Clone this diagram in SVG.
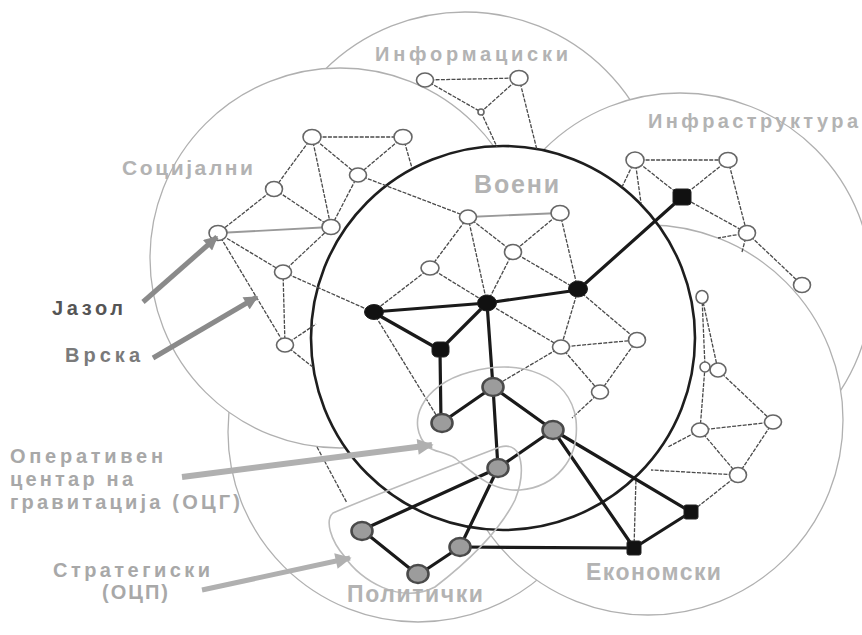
<svg xmlns="http://www.w3.org/2000/svg" width="862" height="635" viewBox="0 0 862 635">
<defs>
<style>
.ring{fill:#fff;stroke:#b0b0b0;stroke-width:1.3}
.mil{fill:#fff;stroke:#1e1e1e;stroke-width:2.6}
.e{stroke:#4a4a4a;stroke-width:1.3;stroke-dasharray:4 1.3;fill:none}
.el{stroke:#999;stroke-width:1.8;fill:none}
.t{stroke:#1a1a1a;stroke-width:3.2;stroke-linecap:round;fill:none}
.blob{fill:none;stroke:#bbb;stroke-width:1.6}
.wn{fill:#fff;stroke:#666;stroke-width:1.6}
.bn{fill:#111;stroke:#222;stroke-width:1}
.gn{fill:#9c9c9c;stroke:#4a4a4a;stroke-width:2.6}
.lab{font-family:"Liberation Sans",Arial,sans-serif;font-weight:bold;fill:#b3b3b3}
.side{font-family:"Liberation Sans",Arial,sans-serif;font-weight:bold}
</style>
<marker id="ahD" markerUnits="userSpaceOnUse" viewBox="0 0 10 10" refX="9" refY="5" markerWidth="16" markerHeight="14" orient="auto"><path d="M0,0 L10,5 L0,10 Z" fill="#8a8a8a"/></marker>
<marker id="ahL" markerUnits="userSpaceOnUse" viewBox="0 0 10 10" refX="9" refY="5" markerWidth="18" markerHeight="16" orient="auto"><path d="M0,0 L10,5 L0,10 Z" fill="#b0b0b0"/></marker>
</defs>
<rect width="862" height="635" fill="#fff"/>
<g id="domains">
<circle class="ring" cx="465" cy="211" r="199"/>
<circle class="ring" cx="680" cy="285" r="192"/>
<circle class="ring" cx="418" cy="432" r="190"/>
<circle class="ring" cx="340" cy="258" r="190"/>
<circle class="ring" cx="648" cy="420" r="195"/>
<circle class="mil" cx="503" cy="338" r="192"/>
</g>
<g id="connectors">
<g class="e">
<line x1="312" y1="137" x2="403" y2="137"/>
<line x1="312" y1="137" x2="358" y2="175"/>
<line x1="403" y1="137" x2="358" y2="175"/>
<line x1="312" y1="137" x2="274" y2="189"/>
<line x1="312" y1="137" x2="331" y2="227"/>
<line x1="403" y1="137" x2="412" y2="168"/>
<line x1="358" y1="175" x2="331" y2="227"/>
<line x1="358" y1="175" x2="468" y2="217"/>
<line x1="274" y1="189" x2="218" y2="233"/>
<line x1="274" y1="189" x2="331" y2="227"/>
<line x1="218" y1="233" x2="283" y2="272"/>
<line x1="283" y1="272" x2="331" y2="227"/>
<line x1="218" y1="233" x2="285" y2="345"/>
<line x1="283" y1="272" x2="285" y2="345"/>
<line x1="283" y1="272" x2="373" y2="312"/>
<line x1="285" y1="345" x2="316" y2="324"/>
<line x1="285" y1="345" x2="314" y2="368"/>
<line x1="425" y1="80" x2="519" y2="78"/>
<line x1="425" y1="80" x2="481" y2="112"/>
<line x1="519" y1="78" x2="481" y2="112"/>
<line x1="481" y1="112" x2="497" y2="147"/>
<line x1="519" y1="78" x2="537" y2="150"/>
<line x1="468" y1="217" x2="513" y2="252"/>
<line x1="560" y1="213" x2="513" y2="252"/>
<line x1="468" y1="217" x2="430" y2="268"/>
<line x1="468" y1="217" x2="487" y2="303"/>
<line x1="560" y1="213" x2="578" y2="290"/>
<line x1="513" y1="252" x2="487" y2="303"/>
<line x1="513" y1="252" x2="578" y2="290"/>
<line x1="430" y1="268" x2="487" y2="303"/>
<line x1="430" y1="268" x2="373" y2="312"/>
<line x1="373" y1="312" x2="441" y2="423"/>
<line x1="487" y1="303" x2="561" y2="347"/>
<line x1="578" y1="290" x2="561" y2="347"/>
<line x1="578" y1="290" x2="637" y2="340"/>
<line x1="561" y1="347" x2="637" y2="340"/>
<line x1="561" y1="347" x2="600" y2="392"/>
<line x1="637" y1="340" x2="600" y2="392"/>
<line x1="561" y1="347" x2="493" y2="387"/>
<line x1="600" y1="392" x2="572" y2="418"/>
<line x1="635" y1="160" x2="728" y2="160"/>
<line x1="635" y1="160" x2="682" y2="197"/>
<line x1="728" y1="160" x2="682" y2="197"/>
<line x1="635" y1="160" x2="622" y2="187"/>
<line x1="635" y1="160" x2="641" y2="203"/>
<line x1="728" y1="160" x2="747" y2="233"/>
<line x1="682" y1="197" x2="747" y2="233"/>
<line x1="747" y1="233" x2="802" y2="285"/>
<line x1="747" y1="233" x2="718" y2="238"/>
<line x1="747" y1="233" x2="742" y2="252"/>
<line x1="702" y1="297" x2="705" y2="367"/>
<line x1="702" y1="297" x2="718" y2="370"/>
<line x1="718" y1="370" x2="773" y2="422"/>
<line x1="705" y1="367" x2="700" y2="430"/>
<line x1="773" y1="422" x2="700" y2="430"/>
<line x1="773" y1="422" x2="738" y2="475"/>
<line x1="700" y1="430" x2="738" y2="475"/>
<line x1="738" y1="475" x2="691" y2="512"/>
<line x1="738" y1="475" x2="651" y2="470"/>
<line x1="700" y1="430" x2="668" y2="447"/>
<line x1="634" y1="548" x2="636" y2="478"/>
<line x1="317" y1="447" x2="347" y2="503"/>
</g>
<g class="el">
<line x1="218" y1="233" x2="331" y2="227"/>
<line x1="468" y1="217" x2="560" y2="213"/>
</g>
<g class="t">
<line x1="373" y1="312" x2="487" y2="303"/>
<line x1="373" y1="312" x2="440" y2="350"/>
<line x1="487" y1="303" x2="440" y2="350"/>
<line x1="487" y1="303" x2="578" y2="290"/>
<line x1="578" y1="290" x2="682" y2="197"/>
<line x1="487" y1="303" x2="493" y2="387"/>
<line x1="440" y1="350" x2="441" y2="423"/>
<line x1="441" y1="423" x2="493" y2="387"/>
<line x1="493" y1="387" x2="498" y2="468"/>
<line x1="493" y1="387" x2="553" y2="430"/>
<line x1="553" y1="430" x2="498" y2="468"/>
<line x1="553" y1="430" x2="634" y2="548"/>
<line x1="553" y1="430" x2="691" y2="512"/>
<line x1="691" y1="512" x2="634" y2="548"/>
<line x1="498" y1="468" x2="362" y2="530"/>
<line x1="498" y1="468" x2="460" y2="547"/>
<line x1="362" y1="530" x2="418" y2="575"/>
<line x1="418" y1="575" x2="460" y2="547"/>
<line x1="460" y1="547" x2="634" y2="548"/>
</g>
</g>
<g id="centres">
<path id="ocg-op" class="blob" d="M428,447 C405,425 420,385 470,372 C520,358 570,375 576,420 C580,460 555,487 520,490 C490,492 470,470 455,458 C445,452 435,452 428,447 Z"/>
<path id="ocg-str" class="blob" d="M333,513 C370,497 440,470 500,447 C525,440 525,475 515,500 C500,530 470,560 435,587 C400,605 360,580 345,557 C330,540 325,520 333,513 Z"/>
</g>
<g id="nodes">
<g id="n-A"><ellipse class="wn" cx="312" cy="137" rx="9" ry="7.5"/></g>
<g id="n-B"><ellipse class="wn" cx="403" cy="137" rx="9" ry="7.5"/></g>
<g id="n-C"><ellipse class="wn" cx="358" cy="175" rx="8.5" ry="7"/></g>
<g id="n-D"><ellipse class="wn" cx="274" cy="189" rx="8.5" ry="7.5"/></g>
<g id="n-E"><ellipse class="wn" cx="331" cy="227" rx="9" ry="7.5"/></g>
<g id="n-F"><ellipse class="wn" cx="218" cy="233" rx="9" ry="7.5"/></g>
<g id="n-G"><ellipse class="wn" cx="283" cy="272" rx="8.5" ry="7"/></g>
<g id="n-X"><ellipse class="wn" cx="285" cy="345" rx="8.5" ry="7"/></g>
<g id="n-J"><ellipse class="wn" cx="425" cy="80" rx="8.5" ry="7"/></g>
<g id="n-K"><ellipse class="wn" cx="519" cy="78" rx="9" ry="7.5"/></g>
<g id="n-n"><circle class="wn" cx="481" cy="112" r="3"/></g>
<g id="n-R"><ellipse class="wn" cx="468" cy="217" rx="8.5" ry="7"/></g>
<g id="n-S"><ellipse class="wn" cx="560" cy="213" rx="9" ry="7.5"/></g>
<g id="n-T"><ellipse class="wn" cx="513" cy="252" rx="8.5" ry="7.5"/></g>
<g id="n-W"><ellipse class="wn" cx="430" cy="268" rx="9" ry="7"/></g>
<g id="n-m1"><ellipse class="wn" cx="561" cy="347" rx="8.5" ry="7"/></g>
<g id="n-m2"><ellipse class="wn" cx="637" cy="340" rx="8.5" ry="7.5"/></g>
<g id="n-m3"><ellipse class="wn" cx="600" cy="392" rx="8.5" ry="7"/></g>
<g id="n-L"><ellipse class="wn" cx="635" cy="160" rx="9" ry="8"/></g>
<g id="n-M"><ellipse class="wn" cx="728" cy="160" rx="9" ry="7.5"/></g>
<g id="n-O"><ellipse class="wn" cx="747" cy="233" rx="8.5" ry="7.5"/></g>
<g id="n-P"><ellipse class="wn" cx="802" cy="285" rx="8.5" ry="7.5"/></g>
<g id="n-Q"><ellipse class="wn" cx="702" cy="297" rx="6" ry="6.5"/></g>
<g id="n-e1"><ellipse class="wn" cx="705" cy="367" rx="5" ry="5"/></g>
<g id="n-e2"><ellipse class="wn" cx="718" cy="370" rx="8" ry="7"/></g>
<g id="n-e3"><ellipse class="wn" cx="773" cy="422" rx="8.5" ry="7"/></g>
<g id="n-e4"><ellipse class="wn" cx="700" cy="430" rx="8.5" ry="7"/></g>
<g id="n-e5"><ellipse class="wn" cx="738" cy="475" rx="8.5" ry="7.5"/></g>
<g id="n-H"><ellipse class="bn" cx="374" cy="312" rx="9.5" ry="7.5"/></g>
<g id="n-V"><ellipse class="bn" cx="487" cy="303" rx="9.5" ry="8"/></g>
<g id="n-U"><ellipse class="bn" cx="578" cy="289" rx="9.5" ry="8"/></g>
<g id="n-Y"><rect class="bn" x="432" y="342" width="17" height="15" rx="5"/></g>
<g id="n-N"><rect class="bn" x="673" y="189" width="18" height="16" rx="3"/></g>
<g id="n-E1"><rect class="bn" x="627" y="541" width="14" height="14" rx="2"/></g>
<g id="n-E2"><rect class="bn" x="684" y="505" width="14" height="14" rx="2"/></g>
<g id="n-Z1"><ellipse class="gn" cx="493" cy="387" rx="10.5" ry="9"/></g>
<g id="n-Z2"><ellipse class="gn" cx="442" cy="423" rx="10.5" ry="9"/></g>
<g id="n-Z3"><ellipse class="gn" cx="553" cy="430" rx="10.5" ry="9"/></g>
<g id="n-Z4"><ellipse class="gn" cx="498" cy="468" rx="10.5" ry="9"/></g>
<g id="n-P1"><ellipse class="gn" cx="362" cy="531" rx="10.5" ry="9"/></g>
<g id="n-P2"><ellipse class="gn" cx="418" cy="574" rx="10.5" ry="9"/></g>
<g id="n-P3"><ellipse class="gn" cx="460" cy="547" rx="10.5" ry="9"/></g>
</g>
<g id="arrows">
<line x1="143" y1="302" x2="217" y2="237" stroke="#8a8a8a" stroke-width="5" marker-end="url(#ahD)"/>
<line x1="153" y1="358" x2="257" y2="297" stroke="#8a8a8a" stroke-width="5" marker-end="url(#ahD)"/>
<line x1="182" y1="477" x2="432" y2="445" stroke="#b0b0b0" stroke-width="6" marker-end="url(#ahL)"/>
<line x1="202" y1="590" x2="350" y2="558" stroke="#b0b0b0" stroke-width="5" marker-end="url(#ahL)"/>
</g>
<g id="labels">
<text class="lab" x="375" y="61" font-size="20" textLength="193" lengthAdjust="spacing">Информациски</text>
<text class="lab" x="648" y="128" font-size="20" textLength="210" lengthAdjust="spacing">Инфраструктура</text>
<text class="lab" x="122" y="175" font-size="21" textLength="131" lengthAdjust="spacing">Социјални</text>
<text class="lab" x="474" y="193" font-size="25" textLength="85" lengthAdjust="spacing">Воени</text>
<text class="lab" x="586" y="580" font-size="23" textLength="135" lengthAdjust="spacing">Економски</text>
<text class="lab" x="347" y="602" font-size="23" textLength="136" lengthAdjust="spacing">Политички</text>
<text class="side" x="52" y="315" font-size="20" fill="#555" textLength="71" lengthAdjust="spacing">Јазол</text>
<text class="side" x="65" y="362" font-size="20" fill="#7a7a7a" textLength="75" lengthAdjust="spacing">Врска</text>
<text class="side" fill="#a8a8a8" font-size="20"><tspan x="10" y="463" textLength="153" lengthAdjust="spacing">Оперативен</tspan><tspan x="10" y="486" textLength="123" lengthAdjust="spacing">центар на</tspan><tspan x="10" y="509" textLength="230" lengthAdjust="spacing">гравитација (ОЦГ)</tspan></text>
<text class="side" fill="#a8a8a8" font-size="20"><tspan x="53" y="577" textLength="157" lengthAdjust="spacing">Стратегиски</tspan><tspan x="102" y="599" textLength="66" lengthAdjust="spacing">(ОЦП)</tspan></text>
</g>
</svg>
